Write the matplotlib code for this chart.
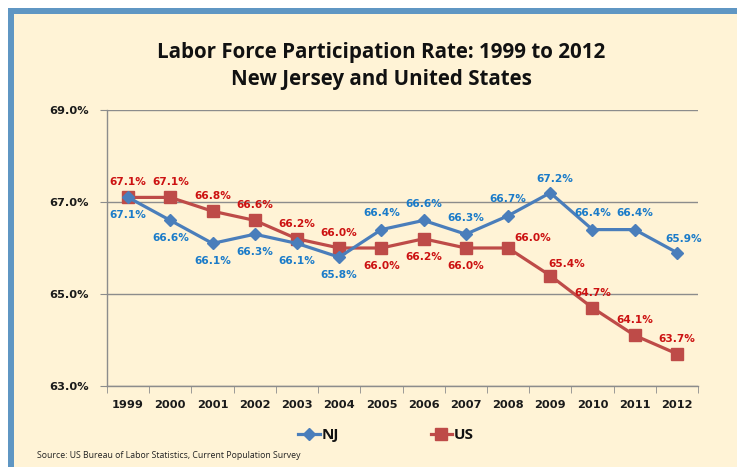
import matplotlib
matplotlib.use("Agg")
import matplotlib.pyplot as plt
from matplotlib.patches import Rectangle
from matplotlib.ticker import FuncFormatter, FixedLocator

years = ["1999", "2000", "2001", "2002", "2003", "2004", "2005",
         "2006", "2007", "2008", "2009", "2010", "2011", "2012"]
nj = [67.1, 66.6, 66.1, 66.3, 66.1, 65.8, 66.4, 66.6, 66.3, 66.7, 67.2, 66.4, 66.4, 65.9]
us = [67.1, 67.1, 66.8, 66.6, 66.2, 66.0, 66.0, 66.2, 66.0, 66.0, 65.4, 64.7, 64.1, 63.7]
y_ticks = [63.0, 65.0, 67.0, 69.0]

title = "Labor Force Participation Rate: 1999 to 2012\nNew Jersey and United States"
source = "Source: US Bureau of Labor Statistics, Current Population Survey"

W, H = 737, 467
fig = plt.figure(figsize=(W / 100, H / 100), dpi=100)
fig.patch.set_facecolor("white")

def fx(px):
    return px / W

def fy(py):
    return 1 - py / H

# border frame
fig.patches.append(Rectangle((fx(8), 0), 1, fy(8), transform=fig.transFigure,
                             facecolor="#5F96C3", edgecolor="none", zorder=-10))
fig.patches.append(Rectangle((fx(14), 0), 1, fy(14), transform=fig.transFigure,
                             facecolor="#FFF3D6", edgecolor="none", zorder=-9))

ax = fig.add_axes([fx(107), fy(386), fx(698) - fx(107), fy(110) - fy(386)])
ax.set_facecolor("none")
ax.set_zorder(1)

x = list(range(len(years)))
nj_color = "#4A7EBB"
us_color = "#BE4B48"
ax.plot(x, nj, color=nj_color, lw=2.3, marker="D", markersize=6.5, label="NJ", zorder=4)
ax.plot(x, us, color=us_color, lw=2.3, marker="s", markersize=9, label="US", zorder=3)

ax.set_xlim(-0.5, len(years) - 0.5)
ax.set_ylim(63.0, 69.0)
ax.yaxis.set_major_locator(FixedLocator(y_ticks))
ax.yaxis.set_major_formatter(FuncFormatter(lambda v, p: f"{v:.1f}%"))
ax.set_xticks(x)
ax.set_xticklabels(years)
ax.set_xticks([i - 0.5 for i in range(len(years) + 1)], minor=True)

for s in ["top", "right"]:
    ax.spines[s].set_visible(False)
for s in ["left", "bottom"]:
    ax.spines[s].set_color("#8C8C8C")
    ax.spines[s].set_linewidth(1.0)

ax.grid(axis="y", color="#8C8C8C", lw=1.0, zorder=0)
ax.set_axisbelow(True)
ax.tick_params(axis="x", which="major", length=0, pad=10,
               labelsize=8.2, labelcolor="#1A1A1A")
ax.tick_params(axis="x", which="minor", length=5, color="#8C8C8C")
ax.tick_params(axis="y", length=5, color="#8C8C8C", pad=8, labelsize=8.2, labelcolor="#1A1A1A")
for lab in ax.get_xticklabels() + ax.get_yticklabels():
    lab.set_fontweight("bold")
    lab.set_family("DejaVu Sans")

nj_lab_c = "#1A7BC9"
us_lab_c = "#CC1111"
nj_off = [(0, -13), (0, -13), (0, -13), (0, -13), (0, -13), (0, -13),
          (0, 12), (0, 12), (0, 12), (0, 12), (3, 10), (0, 12), (0, 12), (5, 10)]
us_off = [(0, 11), (0, 11), (0, 11), (0, 11), (0, 11), (0, 11),
          (0, -13), (0, -13), (0, -13), (18, 7), (12, 8), (0, 11), (0, 11), (0, 11)]
for i in x:
    ax.annotate(f"{nj[i]:.1f}%", (i, nj[i]), xytext=nj_off[i], textcoords="offset points",
                ha="center", va="center", fontsize=7.6, fontweight="bold",
                color=nj_lab_c, zorder=6)
    ax.annotate(f"{us[i]:.1f}%", (i, us[i]), xytext=us_off[i], textcoords="offset points",
                ha="center", va="center", fontsize=7.6, fontweight="bold",
                color=us_lab_c, zorder=6)

fig.text(fx(381), fy(66), title, ha="center", va="center", fontsize=14.8,
         fontweight="bold", family="Open Sans", linespacing=1.35, color="#111111")

leg = ax.legend(loc="center", bbox_to_anchor=(fx(386), fy(435)),
                bbox_transform=fig.transFigure, ncol=2, frameon=False,
                columnspacing=6.0, handlelength=1.4, handletextpad=0.1,
                prop={"family": "Open Sans", "weight": "bold", "size": 11})
for t in leg.get_texts():
    t.set_color("#111111")

fig.text(fx(37), fy(456), source, ha="left", va="center", fontsize=6.3,
         family="Open Sans", color="#222222")

fig.savefig("out.png", dpi=100, facecolor=fig.get_facecolor())
